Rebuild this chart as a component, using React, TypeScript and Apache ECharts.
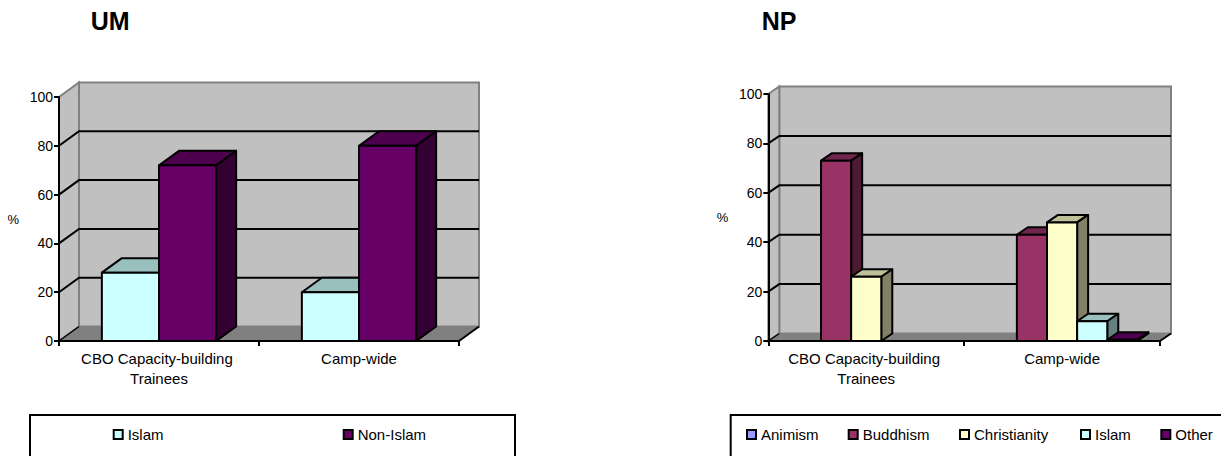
import React, { useEffect, useRef } from 'react';
import * as echarts from 'echarts';

// ---------- data ----------
const categories = ['CBO Capacity-building Trainees', 'Camp-wide'];
const yTicks = [0, 20, 40, 60, 80, 100];

const umNames = ['Islam', 'Non-Islam'];
const umIslam = [28, 20];
const umNonIslam = [72, 80];

const npNames = ['Animism', 'Buddhism', 'Christianity', 'Islam', 'Other'];
const npAnimism: (number | null)[] = [null, null];
const npBuddhism: (number | null)[] = [73, 43];
const npChristianity: (number | null)[] = [26, 48];
const npIslam: (number | null)[] = [null, 8];
const npOther: (number | null)[] = [null, 0.5];

// ---------- styling ----------
const FONT = '"Liberation Sans", Arial, Helvetica, sans-serif';
const COLORS: Record<string, [string, string, string]> = {
  // front, top, side
  Islam: ['#CCFFFF', '#99BFBF', '#668080'],
  'Non-Islam': ['#660066', '#4D004D', '#330033'],
  Animism: ['#9999FF', '#7373BF', '#4D4D80'],
  Buddhism: ['#993366', '#73264D', '#4D1A33'],
  Christianity: ['#FFFFCC', '#BFBF99', '#808066'],
  Other: ['#660066', '#4D004D', '#330033'],
};
const DEPTH = [
  { dx: 20, dy: -14.5 },
  { dx: 11, dy: -7.5 },
];

function frameRender(gi: number) {
  return (params: any, api: any) => {
    const cs = params.coordSys;
    const { dx, dy } = DEPTH[gi];
    const v = api.value(1);
    const y = api.coord([0, v])[1];
    const x0 = cs.x;
    const x1 = cs.x + cs.width;
    const yTop = cs.y;
    const yBot = cs.y + cs.height;
    const children: any[] = [];
    if (params.dataIndex === 0) {
      children.push({
        type: 'polygon',
        shape: { points: [[x0 + dx, yTop + dy], [x1 + dx, yTop + dy], [x1 + dx, yBot + dy], [x0 + dx, yBot + dy]] },
        style: { fill: '#C0C0C0', stroke: '#808080', lineWidth: 2 },
      });
      children.push({
        type: 'polygon',
        shape: { points: [[x0, yTop], [x0 + dx, yTop + dy], [x0 + dx, yBot + dy], [x0, yBot]] },
        style: { fill: '#C0C0C0', stroke: '#808080', lineWidth: 2 },
      });
      children.push({
        type: 'polygon',
        shape: { points: [[x0, yBot], [x1, yBot], [x1 + dx, yBot + dy], [x0 + dx, yBot + dy]] },
        style: { fill: '#808080', stroke: '#808080', lineWidth: 1 },
      });
      children.push({
        type: 'line',
        shape: { x1: x1, y1: yBot, x2: x1 + dx, y2: yBot + dy },
        style: { stroke: '#000', lineWidth: 2 },
      });
      children.push({
        type: 'line',
        shape: { x1: x0, y1: yBot, x2: x0 + dx, y2: yBot + dy },
        style: { stroke: '#000', lineWidth: 1.5 },
      });
    }
    if (v > 0 && v < 100) {
      children.push({
        type: 'polyline',
        shape: { points: [[x0, y], [x0 + dx, y + dy], [x1 + dx, y + dy]] },
        style: { stroke: '#000', lineWidth: 2, fill: null },
      });
    }
    return { type: 'group', children };
  };
}

function barRender(gi: number, si: number, n: number, name: string) {
  return (params: any, api: any) => {
    const ci = api.value(0);
    const v = api.value(1);
    if (v == null || isNaN(v)) return null;
    const [cx, y0] = api.coord([ci, 0]);
    const yv = api.coord([ci, v])[1];
    const band = api.size([1, 0])[0];
    const w = band / (n + 1.5);
    const left = cx - (n * w) / 2 + si * w;
    const right = left + w;
    const { dx, dy } = DEPTH[gi];
    const [cf, ct, cs] = COLORS[name];
    const st = { stroke: '#000', lineWidth: 2, lineJoin: 'round' };
    return {
      type: 'group',
      children: [
        {
          type: 'polygon',
          shape: { points: [[left, yv], [left + dx, yv + dy], [right + dx, yv + dy], [right, yv]] },
          style: { fill: ct, ...st },
        },
        {
          type: 'polygon',
          shape: { points: [[right, yv], [right + dx, yv + dy], [right + dx, y0 + dy], [right, y0]] },
          style: { fill: cs, ...st },
        },
        {
          type: 'polygon',
          shape: { points: [[left, yv], [right, yv], [right, y0], [left, y0]] },
          style: { fill: cf, ...st },
        },
      ],
    };
  };
}

function toData(vals: (number | null)[]) {
  const out: number[][] = [];
  vals.forEach((v, i) => {
    if (v != null) out.push([i, v]);
  });
  return out;
}

function buildOption() {
  const grids = [
    { left: 59, top: 97, width: 400, height: 244 },
    { left: 768.3, top: 94, width: 391.7, height: 247 },
  ].map((g) => ({ ...g, containLabel: false, outerBoundsMode: 'none' }));

  const xAxes = [0, 1].map((gi) => ({
    type: 'category',
    gridIndex: gi,
    data: categories,
    z: 5,
    axisLine: { show: true, lineStyle: { color: '#000', width: 2 } },
    axisTick: { show: true, length: 5, lineStyle: { color: '#000', width: 2 } },
    axisLabel: {
      interval: 0,
      color: '#000',
      fontFamily: FONT,
      fontSize: 15,
      lineHeight: 20,
      margin: 7,
      width: gi === 0 ? 190 : 185,
      overflow: 'break',
    },
    splitLine: { show: false },
  }));

  const yAxes = [0, 1].map((gi) => ({
    type: 'value',
    gridIndex: gi,
    min: 0,
    max: 100,
    interval: 20,
    z: 5,
    name: '%',
    nameLocation: 'middle',
    nameRotate: 0,
    nameGap: 40,
    nameTextStyle: { color: '#000', fontFamily: FONT, fontSize: 13 },
    axisLine: { show: true, lineStyle: { color: '#000', width: 2 } },
    axisTick: { show: true, length: 5, lineStyle: { color: '#000', width: 2 } },
    axisLabel: { color: '#000', fontFamily: FONT, fontSize: 14, margin: 6 },
    splitLine: { show: false },
  }));

  const series: any[] = [];
  [0, 1].forEach((gi) => {
    series.push({
      type: 'custom',
      name: '__frame' + gi,
      xAxisIndex: gi,
      yAxisIndex: gi,
      clip: false,
      silent: true,
      data: yTicks.map((v) => [0, v]),
      renderItem: frameRender(gi),
    });
  });
  const umVals = [umIslam, umNonIslam];
  umNames.forEach((name, si) => {
    series.push({
      type: 'custom',
      name,
      xAxisIndex: 0,
      yAxisIndex: 0,
      clip: false,
      itemStyle: { color: COLORS[name][0] },
      data: toData(umVals[si]),
      renderItem: barRender(0, si, umNames.length, name),
    });
  });
  const npVals = [npAnimism, npBuddhism, npChristianity, npIslam, npOther];
  npNames.forEach((name, si) => {
    series.push({
      type: 'custom',
      name,
      xAxisIndex: 1,
      yAxisIndex: 1,
      clip: false,
      itemStyle: { color: COLORS[name][0] },
      data: toData(npVals[si]),
      renderItem: barRender(1, si, npNames.length, name),
    });
  });

  const legendItems: [string, number][] = [
    ['Islam', 112.7],
    ['Non-Islam', 342.7],
    ['Animism', 746],
    ['Buddhism', 847.7],
    ['Christianity', 959],
    ['Islam', 1080],
    ['Other', 1160.3],
  ];
  const legends = legendItems.map(([name, left]) => ({
    data: [name],
    left,
    top: 425.5,
    padding: 0,
    icon: 'rect',
    itemWidth: 9,
    itemHeight: 9,
    itemGap: 0,
    selectedMode: false,
    itemStyle: { color: COLORS[name][0], borderColor: '#000', borderWidth: 2 },
    textStyle: { color: '#000', fontFamily: FONT, fontSize: 15, lineHeight: 18 },
  }));

  return {
    animation: false,
    backgroundColor: '#fff',
    title: [
      { text: 'UM', left: 90.7, top: 8, padding: 0, textStyle: { fontFamily: FONT, fontSize: 25, fontWeight: 'bold', color: '#000' } },
      { text: 'NP', left: 761.7, top: 8, padding: 0, textStyle: { fontFamily: FONT, fontSize: 25, fontWeight: 'bold', color: '#000' } },
    ],
    grid: grids,
    xAxis: xAxes,
    yAxis: yAxes,
    legend: legends,
    series,
    graphic: [
      { type: 'rect', shape: { x: 30, y: 415, width: 485, height: 60 }, style: { fill: 'none', stroke: '#000', lineWidth: 2 }, silent: true },
      { type: 'rect', shape: { x: 730.7, y: 415, width: 600, height: 60 }, style: { fill: 'none', stroke: '#000', lineWidth: 2 }, silent: true },
    ],
  };
}

export default function App() {
  const ref = useRef<HTMLDivElement>(null);
  useEffect(() => {
    if (!ref.current) return;
    const chart = echarts.init(ref.current, undefined, { renderer: 'svg' });
    chart.setOption(buildOption() as any);
    return () => chart.dispose();
  }, []);
  return (
    <div
      ref={ref}
      style={{ position: 'absolute', left: 0, top: 0, width: 1221, height: 456, background: '#fff' }}
    />
  );
}
